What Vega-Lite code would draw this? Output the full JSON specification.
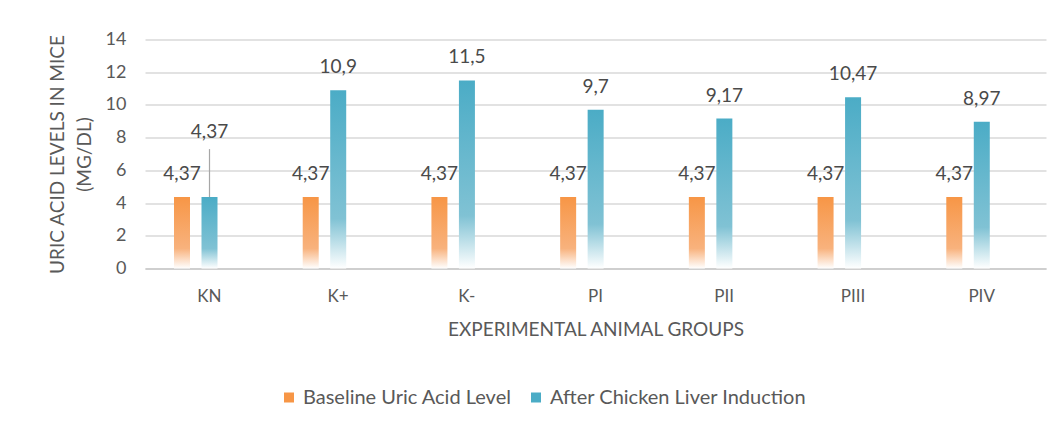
{
  "$schema": "https://vega.github.io/schema/vega-lite/v6.json",
  "width": 901,
  "height": 229,
  "autosize": "none",
  "padding": {"left": 145, "top": 39.5, "right": 16, "bottom": 159.5},
  "background": "#FFFFFF",
  "config": {
    "font": "Lato",
    "view": {"stroke": null},
    "locale": {"number": {"decimal": ",", "thousands": ".", "grouping": [3], "currency": ["", ""]}},
    "axis": {"labelColor": "#595959", "titleColor": "#595959", "labelFont": "Lato", "titleFont": "Lato", "titleFontWeight": "normal"}
  },
  "data": {
    "values": [
      {"group": "KN", "series": "Baseline Uric Acid Level", "value": 4.37},
      {"group": "KN", "series": "After Chicken Liver Induction", "value": 4.37},
      {"group": "K+", "series": "Baseline Uric Acid Level", "value": 4.37},
      {"group": "K+", "series": "After Chicken Liver Induction", "value": 10.9},
      {"group": "K-", "series": "Baseline Uric Acid Level", "value": 4.37},
      {"group": "K-", "series": "After Chicken Liver Induction", "value": 11.5},
      {"group": "PI", "series": "Baseline Uric Acid Level", "value": 4.37},
      {"group": "PI", "series": "After Chicken Liver Induction", "value": 9.7},
      {"group": "PII", "series": "Baseline Uric Acid Level", "value": 4.37},
      {"group": "PII", "series": "After Chicken Liver Induction", "value": 9.17},
      {"group": "PIII", "series": "Baseline Uric Acid Level", "value": 4.37},
      {"group": "PIII", "series": "After Chicken Liver Induction", "value": 10.47},
      {"group": "PIV", "series": "Baseline Uric Acid Level", "value": 4.37},
      {"group": "PIV", "series": "After Chicken Liver Induction", "value": 8.97}
    ]
  },
  "encoding": {
    "x": {
      "field": "group", "type": "nominal", "sort": null,
      "scale": {"paddingInner": 0, "paddingOuter": 0},
      "axis": {
        "title": "EXPERIMENTAL ANIMAL GROUPS", "labelAngle": 0, "ticks": false,
        "domainColor": "#C8C8C8", "domainWidth": 1.5,
        "labelFontSize": 17, "titleFontSize": 19, "labelPadding": 20, "titlePadding": 16
      }
    },
    "xOffset": {
      "field": "series", "type": "nominal",
      "sort": ["Baseline Uric Acid Level", "After Chicken Liver Induction"],
      "scale": {"domain": ["Baseline Uric Acid Level", "After Chicken Liver Induction"], "range": [29, 72.5], "paddingInner": 0.418, "paddingOuter": 0}
    },
    "y": {
      "field": "value", "type": "quantitative",
      "scale": {"domain": [0, 14]},
      "axis": {
        "values": [0, 2, 4, 6, 8, 10, 12, 14],
        "title": ["URIC ACID LEVELS IN MICE", "(MG/DL)"],
        "domain": false, "ticks": false,
        "gridColor": "#D9D9D9", "gridWidth": 1.5,
        "labelFontSize": 18, "titleFontSize": 19, "titleLineHeight": 27,
        "labelPadding": 19, "titlePadding": 11
      }
    },
    "color": {
      "field": "series", "type": "nominal",
      "scale": {
        "domain": ["Baseline Uric Acid Level", "After Chicken Liver Induction"],
        "range": ["#F79646", "#4BACC6"]
      },
      "legend": {
        "title": null, "orient": "none", "legendX": 134, "legendY": 348,
        "direction": "horizontal", "symbolType": "square", "symbolSize": 100,
        "symbolStrokeWidth": 0, "labelFontSize": 20, "labelColor": "#595959",
        "labelFont": "Lato", "columnPadding": 14, "labelOffset": 4, "labelLimit": 0
      }
    }
  },
  "layer": [
    {
      "transform": [{"filter": "datum.series == 'Baseline Uric Acid Level'"}],
      "mark": {"type": "bar", "fill": {"gradient": "linear", "x1": 0, "y1": 0, "x2": 0, "y2": 1, "stops": [{"offset": 0, "color": "#F79646"}, {"offset": 0.72, "color": "#F8B27D"}, {"offset": 1, "color": "#FFFFFF"}]}}
    },
    {
      "transform": [{"filter": "datum.series == 'After Chicken Liver Induction'"}],
      "mark": {"type": "bar", "fill": {"gradient": "linear", "x1": 0, "y1": 0, "x2": 0, "y2": 1, "stops": [{"offset": 0, "color": "#4BACC6"}, {"offset": 0.72, "color": "#80C2D4"}, {"offset": 1, "color": "#FFFFFF"}]}}
    },
    {
      "transform": [{"filter": "!(datum.group == 'KN' && datum.series == 'After Chicken Liver Induction')"}],
      "mark": {"type": "text", "baseline": "alphabetic", "dy": -17, "fontSize": 19, "fill": "#4A4A4A"},
      "encoding": {
        "text": {"field": "value", "type": "quantitative", "format": ".4~r"}
      }
    },
    {
      "transform": [{"filter": "datum.group == 'KN' && datum.series == 'After Chicken Liver Induction'"}],
      "mark": {"type": "rule", "stroke": "#A6A6A6", "strokeWidth": 1.2},
      "encoding": {
        "y2": {"datum": 7.3}
      }
    },
    {
      "transform": [{"filter": "datum.group == 'KN' && datum.series == 'After Chicken Liver Induction'"}],
      "mark": {"type": "text", "baseline": "alphabetic", "fontSize": 19, "fill": "#4A4A4A"},
      "encoding": {
        "y": {"datum": 7.98},
        "text": {"field": "value", "type": "quantitative", "format": ".4~r"}
      }
    }
  ]
}
